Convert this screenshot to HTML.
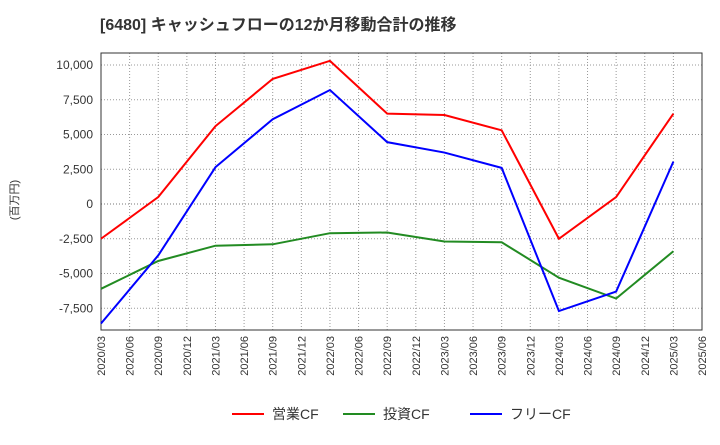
<!DOCTYPE html>
<html><head><meta charset="utf-8"><style>
body{margin:0;background:#fff;font-family:"Liberation Sans","Noto Sans CJK JP",sans-serif}
</style></head><body>
<svg id="c" width="720" height="440" xmlns="http://www.w3.org/2000/svg">
<text x="100" y="30" font-size="16" font-weight="bold" fill="#333">[6480]  キャッシュフローの12か月移動合計の推移</text>
<text transform="translate(18,200) rotate(-90)" font-size="11" fill="#333" text-anchor="middle">(百万円)</text>
<g id="grid"></g><g id="ax"></g><g id="series"></g><g id="legend"></g>
</svg>
<script>
const categories=["2020/03","2020/06","2020/09","2020/12","2021/03","2021/06","2021/09","2021/12","2022/03","2022/06","2022/09","2022/12","2023/03","2023/06","2023/09","2023/12","2024/03","2024/06","2024/09","2024/12","2025/03","2025/06"];
const dataDates=["2020/03","2020/09","2021/03","2021/09","2022/03","2022/09","2023/03","2023/09","2024/03","2024/09","2025/03"];
const operatingCF=[-2500,500,5600,9000,10300,6500,6400,5300,-2500,500,6500];
const investingCF=[-6100,-4100,-3000,-2900,-2100,-2050,-2700,-2750,-5300,-6800,-3400];
const freeCF=[-8600,-3700,2650,6100,8200,4450,3700,2600,-7700,-6300,3050];
const yTicks=[10000,7500,5000,2500,0,-2500,-5000,-7500];
const NS="http://www.w3.org/2000/svg";
const L=101,R=702,T=53,B=330;
const xs=i=>L+(R-L)*i/(categories.length-1);
const xOf=d=>xs(categories.indexOf(d));
const y=v=>204-v*(34.75/2500);
function mk(tag,attrs,parent){const e=document.createElementNS(NS,tag);for(const k in attrs)e.setAttribute(k,attrs[k]);document.getElementById(parent).appendChild(e);return e;}
categories.forEach((c,i)=>{
 const g=mk("line",{x1:xs(i),x2:xs(i),y1:T,y2:B,stroke:"#999","stroke-dasharray":"1,2"},"grid");
 
 
 const t=mk("text",{transform:`translate(${xs(i)+4},${B+6}) rotate(-90)`,"font-size":"11",fill:"#333","text-anchor":"end"},"ax");
 t.textContent=c;
 
 
});
yTicks.forEach(v=>{
 const g=mk("line",{x1:L,x2:R,y1:y(v),y2:y(v),stroke:v===0?"#777":"#999","stroke-dasharray":"1,2"},"grid");
 
 
 const t=mk("text",{x:L-8,y:y(v)+4,"font-size":"12",fill:"#333","text-anchor":"end"},"ax");
 t.textContent=v.toLocaleString("en-US");
 
 
});
const fr=mk("rect",{x:L,y:T,width:R-L,height:B-T,fill:"none",stroke:"#333"},"ax");


const series=[["operating-cf-line",operatingCF,"#ff0000","営業CF"],["investing-cf-line",investingCF,"#228b22","投資CF"],["free-cf-line",freeCF,"#0000ff","フリーCF"]];
series.forEach(([n,d,col,lab],k)=>{
 const p=mk("polyline",{points:d.map((v,i)=>xOf(dataDates[i])+","+y(v)).join(" "),fill:"none",stroke:col,"stroke-width":"2"},"series");
 
 
 const lx=[232,343,470][k];
 const ll=mk("line",{x1:lx,x2:lx+32,y1:414,y2:414,stroke:col,"stroke-width":"2"},"legend");
 
 
 const lt=mk("text",{x:lx+40,y:419,"font-size":"14",fill:"#333"},"legend");
 lt.textContent=lab;
 
 
});
</script>
</body></html>
